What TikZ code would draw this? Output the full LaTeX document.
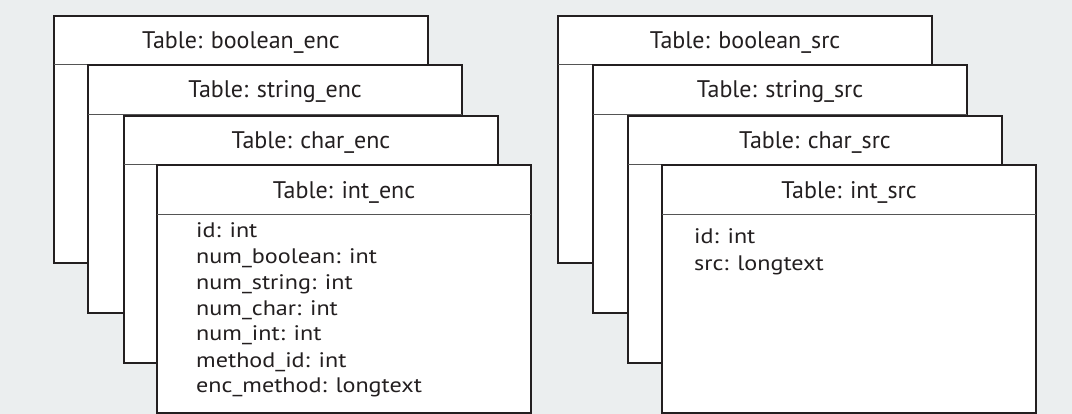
\documentclass[tikz,border=0pt]{standalone}
\usepackage{fontspec}
\setmainfont{PT Sans}
\newfontfamily\fieldfont[FakeStretch=1.15]{PT Sans}
\definecolor{bgc}{HTML}{EBEEEF}
\definecolor{linec}{HTML}{231F20}
\definecolor{sepc}{HTML}{555555}
\begin{document}
\begin{tikzpicture}[x=1pt,y=-1pt,
  tbl/.style={draw=linec, line width=1.8pt, fill=white, anchor=north west,
    minimum width=374pt, inner sep=0pt, outer sep=0pt},
  sepline/.style={draw=sepc, line width=1pt},
  title/.style={font=\fontsize{24}{28}\selectfont, anchor=base, inner sep=0pt, text=linec},
  field/.style={font=\fieldfont\fontsize{21}{25}\selectfont, anchor=base west, inner sep=0pt, text=linec}]
\fill[bgc] (0,0) rectangle (1072,414);
\useasboundingbox (0,0) rectangle (1072,414);

% ---------- left stack ----------
\node[tbl, minimum height=247pt] (be) at (54,16) {};
\draw[sepline] ([yshift=-49pt]be.north west) -- ([yshift=-49pt]be.north east);
\node[title] (bet) at ([yshift=-33pt]be.north) {Table: boolean\_enc};

\node[tbl, minimum height=248pt] (se) at (88,65) {};
\draw[sepline] ([yshift=-50pt]se.north west) -- ([yshift=-50pt]se.north east);
\node[title] (set) at ([yshift=-33pt]se.north) {Table: string\_enc};

\node[tbl, minimum height=247pt] (ce) at (124,116) {};
\draw[sepline] ([yshift=-49pt]ce.north west) -- ([yshift=-49pt]ce.north east);
\node[title] (cet) at ([yshift=-33pt]ce.north) {Table: char\_enc};

\node[tbl, minimum height=248pt] (ie) at (157,165) {};
\draw[sepline] ([yshift=-50pt]ie.north west) -- ([yshift=-50pt]ie.north east);
\node[title] (iet) at ([yshift=-34pt]ie.north) {Table: int\_enc};

\node[field] (ie1) at (196,238) {id: int};
\node[field] (ie2) at (196,264) {num\_boolean: int};
\node[field] (ie3) at (196,290) {num\_string: int};
\node[field] (ie4) at (196,316) {num\_char: int};
\node[field] (ie5) at (196,341) {num\_int: int};
\node[field] (ie6) at (196,367) {method\_id: int};
\node[field] (ie7) at (196,392) {enc\_method: longtext};

% ---------- right stack ----------
\node[tbl, minimum height=247pt] (bs) at (558,16) {};
\draw[sepline] ([yshift=-49pt]bs.north west) -- ([yshift=-49pt]bs.north east);
\node[title] (bst) at ([yshift=-33pt]bs.north) {Table: boolean\_src};

\node[tbl, minimum height=248pt] (ss) at (593,65) {};
\draw[sepline] ([yshift=-50pt]ss.north west) -- ([yshift=-50pt]ss.north east);
\node[title] (sst) at ([yshift=-33pt]ss.north) {Table: string\_src};

\node[tbl, minimum height=247pt] (cs) at (628,116) {};
\draw[sepline] ([yshift=-49pt]cs.north west) -- ([yshift=-49pt]cs.north east);
\node[title] (cst) at ([yshift=-33pt]cs.north) {Table: char\_src};

\node[tbl, minimum height=248pt] (is) at (662,165) {};
\draw[sepline] ([yshift=-50pt]is.north west) -- ([yshift=-50pt]is.north east);
\node[title] (ist) at ([yshift=-34pt]is.north) {Table: int\_src};

\node[field] (is1) at (694,244) {id: int};
\node[field] (is2) at (694,271) {src: longtext};
\end{tikzpicture}
\end{document}
